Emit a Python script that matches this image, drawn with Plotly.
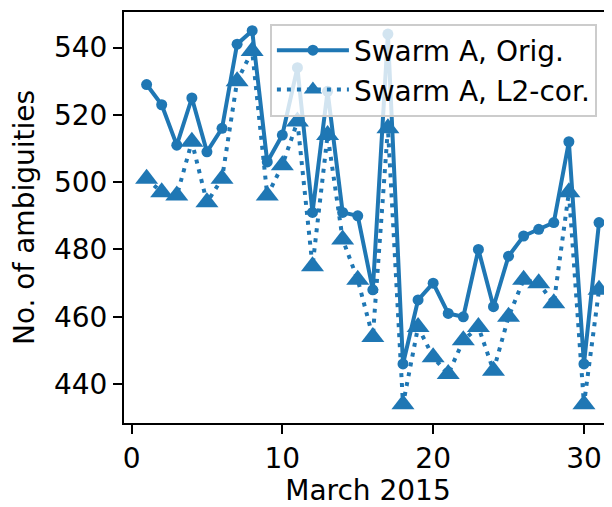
import plotly.graph_objects as go

days = list(range(1, 32))
orig = [529, 523, 511, 525, 509, 516, 541, 545, 506, 514,
        534, 491, 527, 491, 490, 468, 544, 446, 465, 470,
        461, 460, 480, 463, 478, 484, 486, 488, 512, 446, 488]
l2cor = [501, 497, 496, 512, 494, 501, 530, 539, 496, 505,
         518, 475, 514, 483, 471, 454, 516, 434, 457, 448,
         443, 453, 457, 444, 460, 471, 470, 464, 497, 434, 468]
x_ticks = [0, 10, 20, 30]
y_ticks = [440, 460, 480, 500, 520, 540]

C0 = "#1f77b4"
FONT = "DejaVu Sans"
FS = 28

fig = go.Figure()
fig.add_trace(go.Scatter(
    x=days, y=orig, mode="lines+markers", name="Swarm A, Orig.",
    line=dict(color=C0, width=4),
    marker=dict(symbol="circle", size=11, color=C0),
))
fig.add_trace(go.Scatter(
    x=days, y=l2cor, mode="lines+markers", name="Swarm A, L2-cor.",
    line=dict(color=C0, width=4, dash="4px,6px"),
    marker=dict(symbol="triangle-up", size=20, color=C0),
))

fig.update_layout(
    width=604, height=499,
    margin=dict(l=116, r=0, t=4, b=84, autoexpand=False),
    paper_bgcolor="white", plot_bgcolor="white",
    font=dict(family=FONT, size=FS, color="black"),
    showlegend=True,
    legend=dict(
        x=0.299, y=0.972, xanchor="left", yanchor="top",
        bgcolor="rgba(255,255,255,0.8)", bordercolor="#cccccc", borderwidth=2,
        font=dict(family=FONT, size=FS, color="black"),
        itemwidth=72, tracegroupgap=0,
    ),
    xaxis=dict(
        range=[-0.5, 31.86], tickvals=x_ticks, ticktext=[str(v) for v in x_ticks],
        showgrid=False, zeroline=False, automargin=False,
        showline=True, linecolor="black", linewidth=2, mirror=True,
        ticks="outside", ticklen=9, tickwidth=2, tickcolor="black",
        title=dict(text="March 2015", standoff=17, font=dict(size=FS)),
    ),
    yaxis=dict(
        range=[428.45, 550.55], tickvals=y_ticks, ticktext=[str(v) for v in y_ticks],
        showgrid=False, zeroline=False, automargin=False,
        showline=True, linecolor="black", linewidth=2, mirror=False,
        ticks="outside", ticklen=9, tickwidth=2, tickcolor="black",
        title=dict(text="No. of ambiguities", standoff=16, font=dict(size=FS)),
    ),
)

fig.write_html("out.html")
